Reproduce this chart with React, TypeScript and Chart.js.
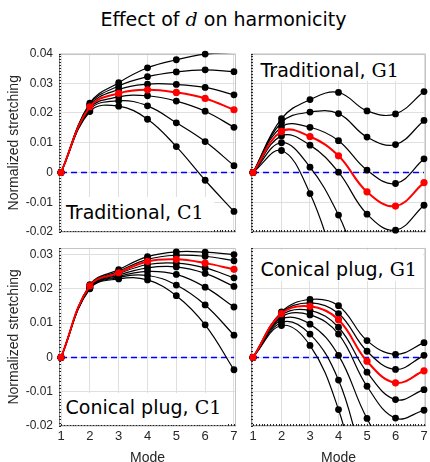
import React, { useEffect, useRef } from 'react';
import { Chart, registerables } from 'chart.js';

Chart.register(...registerables);

// ---------- data ----------
const modes = [1, 2, 3, 4, 5, 6, 7];

// Traditional, C1 (top to bottom; red is the highlighted curve)
const tradC1_1 = [0, 0.0233, 0.0302, 0.0352, 0.0379, 0.0398, 0.0404];
const tradC1_2 = [0, 0.0229, 0.0291, 0.0322, 0.0338, 0.0345, 0.0339];
const tradC1_3 = [0, 0.0225, 0.0279, 0.0297, 0.0296, 0.0286, 0.0261];
const tradC1_red = [0, 0.0221, 0.0266, 0.0278, 0.0269, 0.0249, 0.0211];
const tradC1_5 = [0, 0.0216, 0.0254, 0.0258, 0.024, 0.0206, 0.0152];
const tradC1_6 = [0, 0.0211, 0.0241, 0.0224, 0.0167, 0.0104, 0.0023];
const tradC1_7 = [0, 0.0205, 0.0223, 0.0179, 0.0087, -0.0026, -0.0131];

// Traditional, G1
const tradG1_1 = [0, 0.0181, 0.0245, 0.0269, 0.0207, 0.0197, 0.0272];
const tradG1_2 = [0, 0.0168, 0.0203, 0.0198, 0.0119, 0.0094, 0.0175];
const tradG1_3 = [0, 0.0153, 0.0152, 0.0107, 0.0008, -0.0037, 0.0046];
const tradG1_red = [0, 0.0138, 0.0121, 0.0056, -0.0065, -0.0113, -0.0034];
const tradG1_5 = [0, 0.0123, 0.0092, 0.0001, -0.014, -0.0194, -0.011];
const tradG1_6 = [0, 0.01, 0.0018, -0.0143, -0.036, -0.045, -0.04];
const tradG1_7 = [0, 0.0074, -0.0071, -0.034, -0.06, -0.07, -0.066];

// Conical plug, C1
const conC1_1 = [0, 0.0212, 0.0256, 0.0294, 0.0308, 0.0307, 0.03];
const conC1_2 = [0, 0.021, 0.0251, 0.0286, 0.0298, 0.0295, 0.0282];
const conC1_red = [0, 0.0209, 0.0247, 0.028, 0.0286, 0.0275, 0.0257];
const conC1_4 = [0, 0.0207, 0.0244, 0.0271, 0.0275, 0.0261, 0.0232];
const conC1_5 = [0, 0.0205, 0.024, 0.0261, 0.0264, 0.0245, 0.0207];
const conC1_6 = [0, 0.0204, 0.0236, 0.0251, 0.0242, 0.0205, 0.0147];
const conC1_7 = [0, 0.0202, 0.0233, 0.0239, 0.0211, 0.0153, 0.0065];
const conC1_8 = [0, 0.02, 0.0229, 0.0226, 0.018, 0.0095, -0.0036];

// Conical plug, G1
const conG1_1 = [0, 0.0133, 0.0169, 0.0151, 0.0049, 0.0009, 0.0043];
const conG1_2 = [0, 0.013, 0.0159, 0.0128, 0.0018, -0.0035, 0.0006];
const conG1_red = [0, 0.0128, 0.0149, 0.011, -0.0011, -0.0074, -0.0039];
const conG1_4 = [0, 0.0123, 0.0137, 0.0088, -0.0043, -0.0123, -0.0094];
const conG1_5 = [0, 0.0118, 0.0124, 0.0068, -0.0084, -0.0177, -0.0154];
const conG1_6 = [0, 0.0111, 0.0097, 0.0006, -0.0178, -0.03, -0.028];
const conG1_7 = [0, 0.0102, 0.0068, -0.0066, -0.032, -0.045, -0.042];
const conG1_8 = [0, 0.0093, 0.0035, -0.0152, -0.045, -0.06, -0.056];

const zeroLine = [0, 0];
const zeroLineModes = [1, 7];

const yTickLabels: Record<string, string> = {
  '-0.02': '-0.02', '-0.01': '-0.01', '0': '0', '0.01': '0.01', '0.02': '0.02', '0.03': '0.03', '0.04': '0.04',
};

// ---------- look ----------
const TICK_FONT = "'Liberation Sans', Arial, Helvetica, sans-serif";
const LABEL_SANS = "'DejaVu Sans', sans-serif";
const LABEL_SERIF = "'DejaVu Serif', serif";
const AXIS_COLOR = '#262626';
const GRID_COLOR = '#dfdfdf';

type PanelCfg = {
  id: string;
  left: number; top: number; width: number; height: number;
  padTop: number; padRight: number; yWidth: number; xHeight: number;
  yMax: number;
  black: number[][];
  red: number[];
  showY: boolean; showX: boolean;
  labelSans: string; labelSerif: string;
  box: { left: number; top: number; width: number; height: number };
  textLeft: number; baseline: number;
};

const panels: PanelCfg[] = [
  {
    id: 'tl', left: 0, top: 40, width: 240, height: 196, padTop: 13.5, padRight: 3, yWidth: 59, xHeight: 4,
    yMax: 0.04, black: [tradC1_1, tradC1_2, tradC1_3, tradC1_5, tradC1_6, tradC1_7], red: tradC1_red,
    showY: true, showX: false, labelSans: 'Traditional,', labelSerif: 'C1',
    box: { left: 62, top: 197, width: 152, height: 34 }, textLeft: 66, baseline: 218.6,
  },
  {
    id: 'tr', left: 245, top: 40, width: 185, height: 196, padTop: 13.5, padRight: 2.3, yWidth: 6, xHeight: 4,
    yMax: 0.04, black: [tradG1_1, tradG1_2, tradG1_3, tradG1_5, tradG1_6, tradG1_7], red: tradG1_red,
    showY: false, showX: false, labelSans: 'Traditional,', labelSerif: 'G1',
    box: { left: 253, top: 55, width: 160, height: 26 }, textLeft: 260.5, baseline: 76.2,
  },
  {
    id: 'bl', left: 0, top: 236, width: 240, height: 226, padTop: 11.7, padRight: 3, yWidth: 59, xHeight: 36,
    yMax: 0.032, black: [conC1_1, conC1_2, conC1_4, conC1_5, conC1_6, conC1_7, conC1_8], red: conC1_red,
    showY: true, showX: true, labelSans: 'Conical plug,', labelSerif: 'C1',
    box: { left: 62, top: 393, width: 165, height: 32 }, textLeft: 65.5, baseline: 413.6,
  },
  {
    id: 'br', left: 245, top: 236, width: 185, height: 226, padTop: 11.7, padRight: 2.3, yWidth: 6, xHeight: 36,
    yMax: 0.032, black: [conG1_1, conG1_2, conG1_4, conG1_5, conG1_6, conG1_7, conG1_8], red: conG1_red,
    showY: false, showX: true, labelSans: 'Conical plug,', labelSerif: 'G1',
    box: { left: 253, top: 250, width: 170, height: 31 }, textLeft: 260.5, baseline: 275.2,
  },
];

const X_MIN = 0.93;
const X_MAX = 7.07;
const Y_MIN = -0.02;

const toPoints = (xs: number[], ys: number[]) => xs.map((x, i) => ({ x, y: ys[i] }));

const boxPlugin = {
  id: 'axesBox',
  beforeDatasetsDraw(chart: any) {
    const { ctx, chartArea, scales } = chart;
    const { left, right, top, bottom } = chartArea;
    const xs = scales.x;
    const ys = scales.y;
    ctx.save();
    ctx.lineWidth = 1;
    // top and right edges
    ctx.strokeStyle = '#c4c4c4';
    ctx.beginPath();
    ctx.moveTo(Math.round(left) + 0.5, Math.round(top) + 0.5);
    ctx.lineTo(Math.round(right) - 0.5, Math.round(top) + 0.5);
    ctx.lineTo(Math.round(right) - 0.5, Math.round(bottom) - 0.5);
    ctx.stroke();
    // left and bottom edges
    ctx.strokeStyle = '#8a8a8a';
    ctx.beginPath();
    ctx.moveTo(Math.round(left) + 0.5, Math.round(top));
    ctx.lineTo(Math.round(left) + 0.5, Math.round(bottom) - 0.5);
    ctx.lineTo(Math.round(right), Math.round(bottom) - 0.5);
    ctx.stroke();
    // minor ticks
    ctx.strokeStyle = AXIS_COLOR;
    ctx.beginPath();
    for (let k = Math.ceil(X_MIN * 10); k <= Math.floor(X_MAX * 10); k++) {
      const px = Math.round(xs.getPixelForValue(k / 10)) + 0.5;
      ctx.moveTo(px, Math.round(bottom));
      ctx.lineTo(px, Math.round(bottom) - 2);
    }
    for (let k = Math.ceil(ys.min * 1000); k <= Math.floor(ys.max * 1000); k++) {
      const py = Math.round(ys.getPixelForValue(k / 1000)) + 0.5;
      ctx.moveTo(Math.round(left), py);
      ctx.lineTo(Math.round(left) + 2, py);
    }
    ctx.stroke();
    ctx.restore();
  },
};

function PanelChart({ p }: { p: PanelCfg }) {
  const ref = useRef<HTMLCanvasElement>(null);
  useEffect(() => {
    if (!ref.current) return;
    const inRange = (vals: number[]) =>
      toPoints(modes, vals).map((pt) => ({ x: pt.x, y: pt.y >= Y_MIN && pt.y <= p.yMax ? pt.y : null }));
    const datasets: any[] = [
      {
        data: toPoints(zeroLineModes, zeroLine),
        borderColor: '#0000ff', borderWidth: 1.5, borderDash: [6, 4],
        pointRadius: 0, tension: 0, order: 10, clip: 0,
      },
    ];
    p.black.forEach((c) => {
      datasets.push({
        data: toPoints(modes, c), borderColor: '#000000', borderWidth: 1.2,
        pointRadius: 0, tension: 0.4, order: 6, clip: 0,
      });
    });
    p.black.forEach((c) => {
      datasets.push({
        data: inRange(c), showLine: false, pointRadius: 3.4, pointBackgroundColor: '#000000',
        pointBorderWidth: 0, order: 5, clip: false,
      });
    });
    datasets.push({
      data: toPoints(modes, p.red), borderColor: '#ff0000', borderWidth: 2,
      pointRadius: 0, tension: 0.4, order: 2, clip: 0,
    });
    datasets.push({
      data: inRange(p.red), showLine: false, pointRadius: 3.6, pointBackgroundColor: '#ff0000',
      pointBorderWidth: 0, order: 1, clip: false,
    });

    const chart = new Chart(ref.current, {
      type: 'line',
      data: { datasets },
      plugins: [boxPlugin],
      options: {
        animation: false,
        responsive: false,
        maintainAspectRatio: false,
        events: [],
        layout: { padding: { top: p.padTop, right: p.padRight, left: 0, bottom: 0 } },
        elements: { line: { capBezierPoints: false } },
        plugins: { legend: { display: false }, tooltip: { enabled: false }, title: { display: false } },
        scales: {
          x: {
            type: 'linear', min: X_MIN, max: X_MAX,
            grid: { color: GRID_COLOR, drawTicks: false, lineWidth: 1 },
            border: { display: false },
            ticks: {
              stepSize: 1, includeBounds: false, display: p.showX, autoSkip: false, maxRotation: 0,
              color: AXIS_COLOR, font: { family: TICK_FONT, size: 13 }, padding: 3,
              callback: (v: any) => String(v),
            },
            title: {
              display: p.showX, text: 'Mode', color: AXIS_COLOR,
              font: { family: TICK_FONT, size: 14, lineHeight: 0.6 }, padding: 0,
            },
            afterFit: (s: any) => {
              s.height = p.xHeight;
              s.paddingLeft = 0; s.paddingRight = 0; s.paddingTop = 0; s.paddingBottom = 0;
            },
          },
          y: {
            type: 'linear', min: Y_MIN, max: p.yMax,
            grid: { color: GRID_COLOR, drawTicks: false, lineWidth: 1 },
            border: { display: false },
            ticks: {
              stepSize: 0.01, includeBounds: false, display: p.showY,
              color: AXIS_COLOR, font: { family: TICK_FONT, size: 12 }, padding: 6,
              callback: (v: any) => {
                const key = String(Math.round(Number(v) * 100) / 100);
                return yTickLabels[key] ?? key;
              },
            },
            title: {
              display: p.showY, text: 'Normalized stretching', color: AXIS_COLOR,
              font: { family: TICK_FONT, size: 14 }, padding: { top: 6, bottom: 0 },
            },
            afterFit: (s: any) => {
              s.width = p.yWidth;
              s.paddingLeft = 0; s.paddingRight = 0; s.paddingTop = 0; s.paddingBottom = 0;
            },
          },
        },
      } as any,
    });
    return () => chart.destroy();
  }, [p]);
  return (
    <canvas
      ref={ref}
      width={p.width}
      height={p.height}
      style={{ position: 'absolute', left: p.left, top: p.top, width: p.width, height: p.height }}
    />
  );
}

export default function App() {
  return (
    <div style={{ position: 'relative', width: 430, height: 462, background: '#ffffff', overflow: 'hidden' }}>
      <style>{'body{margin:0;background:#fff;}'}</style>
      <div
        style={{
          position: 'absolute', left: 100.5, top: 8.4, fontFamily: LABEL_SANS, fontSize: 19,
          lineHeight: '22px', whiteSpace: 'nowrap', color: '#000',
        }}
      >
        Effect of <span style={{ fontFamily: LABEL_SERIF, fontStyle: 'italic' }}>d</span> on harmonicity
      </div>
      {panels.map((p) => (
        <PanelChart key={p.id} p={p} />
      ))}
      {panels.map((p) => (
        <React.Fragment key={p.id + '-label'}>
          <div
            style={{
              position: 'absolute', left: p.box.left, top: p.box.top, width: p.box.width,
              height: p.box.height, background: '#ffffff',
            }}
          />
          <div
            style={{
              position: 'absolute', left: p.textLeft, top: p.baseline - 17.6, fontFamily: LABEL_SANS,
              fontSize: 19, lineHeight: '22px', whiteSpace: 'nowrap', color: '#000',
            }}
          >
            {p.labelSans}{' '}
            <span style={{ fontFamily: LABEL_SERIF }}>{p.labelSerif}</span>
          </div>
        </React.Fragment>
      ))}
    </div>
  );
}
